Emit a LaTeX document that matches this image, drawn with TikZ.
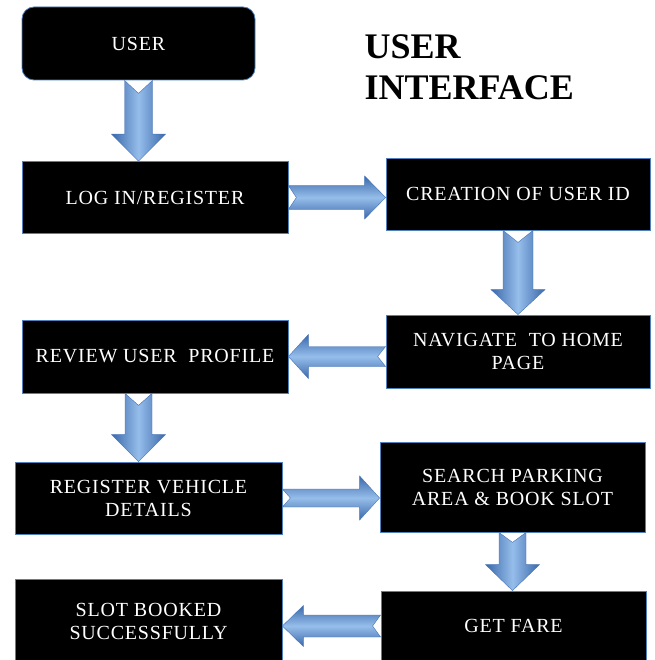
\documentclass[tikz,border=0pt]{standalone}
\usepackage{fontspec}
\setmainfont{Liberation Serif}
\newfontfamily\boxfont[LetterSpace=4]{Liberation Serif}
\usetikzlibrary{calc}
\definecolor{boxline}{RGB}{79,129,189}
\definecolor{arrowedge}{RGB}{58,104,170}
\definecolor{arrowlight}{RGB}{150,190,235}
\definecolor{arrowline}{RGB}{70,115,180}
\tikzset{
  stepbox/.style={draw=boxline, line width=0.8pt, fill=black, text=white, align=center,
    font=\boxfont\fontsize{20}{23}\selectfont},
  wide/.style={minimum width=266pt, minimum height=72pt},
  block arrow/.style args={#1/#2/#3/#4}{draw=arrowline, line width=0.4pt, to path={
      ($(\tikztostart)!#1!90:(\tikztotarget)$)
      -- ($(\tikztostart)!#4!(\tikztotarget)$)
      -- ($(\tikztostart)!#1!-90:(\tikztotarget)$)
      -- ($($(\tikztotarget)!#3!(\tikztostart)$)!#1!-90:(\tikztotarget)$)
      -- ($($(\tikztotarget)!#3!(\tikztostart)$)!#2!-90:(\tikztotarget)$)
      -- (\tikztotarget)
      -- ($($(\tikztotarget)!#3!(\tikztostart)$)!#2!90:(\tikztotarget)$)
      -- ($($(\tikztotarget)!#3!(\tikztostart)$)!#1!90:(\tikztotarget)$)
      -- cycle}},
  vshade/.style={left color=arrowedge, right color=arrowedge, middle color=arrowlight},
  hshade/.style={top color=arrowedge, bottom color=arrowedge, middle color=arrowlight}
}
\begin{document}
\begin{tikzpicture}[x=1pt,y=-1pt]
\useasboundingbox (0,0) rectangle (654,660);
\clip (0,0) rectangle (654,660);

\node[stepbox, rounded corners=12pt, minimum width=233pt, minimum height=73pt] (user) at (138.5,43.5) {USER};
\node[font=\bfseries\fontsize{36}{41}\selectfont, align=left, anchor=base west] (title) at (361,100) {USER\\INTERFACE};

\node[stepbox, wide] (login) at (155,197.5) {LOG IN/REGISTER};
\node[stepbox, minimum width=264pt, minimum height=72pt] (creation) at (518,194) {CREATION OF USER ID};
\node[stepbox, minimum width=264pt, minimum height=73pt] (navigate) at (518,351.5) {NAVIGATE \ TO HOME\\PAGE};
\node[stepbox, wide, minimum height=73pt] (review) at (155,356.5) {REVIEW USER \ PROFILE};
\node[stepbox, minimum width=267pt, minimum height=72pt] (register) at (148.5,498) {REGISTER VEHICLE\\DETAILS};
\node[stepbox, minimum width=265pt, minimum height=90pt] (search) at (512.5,487) {SEARCH PARKING\\AREA \& BOOK SLOT};
\node[stepbox, minimum width=265pt, minimum height=70pt] (getfare) at (513.5,626) {GET FARE};
\node[stepbox, minimum width=267pt, minimum height=84pt] (slot) at (148.5,621) {SLOT BOOKED\\SUCCESSFULLY};

\coordinate (u1) at (user.south |- login.north);
\coordinate (c1) at (creation.south |- navigate.north);
\coordinate (n1) at (navigate.west |- review.east);
\coordinate (r1) at (user.south |- review.south);
\coordinate (r2) at (user.south |- register.north);
\coordinate (l1) at (login.east -| creation.west);
\coordinate (g1) at (register.east -| search.west);
\coordinate (s1) at (search.south |- getfare.north);
\coordinate (f1) at (getfare.west -| slot.east);

\draw[block arrow=14pt/27pt/27pt/13pt, vshade] (user.south) to (u1);
\draw[block arrow=12pt/21.5pt/21pt/8pt, hshade] (login.east) to (l1);
\draw[block arrow=15pt/27pt/25pt/12pt, vshade] (creation.south) to (c1);
\draw[block arrow=10pt/22pt/20pt/8pt, hshade] (n1) to (review.east);
\draw[block arrow=13.5pt/27pt/27pt/12pt, vshade] (r1) to (r2);
\draw[block arrow=9pt/22pt/20pt/8pt, hshade] (register.east) to (g1);
\draw[block arrow=13.5pt/27pt/26pt/10pt, vshade] (search.south) to (s1);
\draw[block arrow=11pt/20.5pt/21pt/8pt, hshade] (getfare.west) to (f1);
\end{tikzpicture}
\end{document}
